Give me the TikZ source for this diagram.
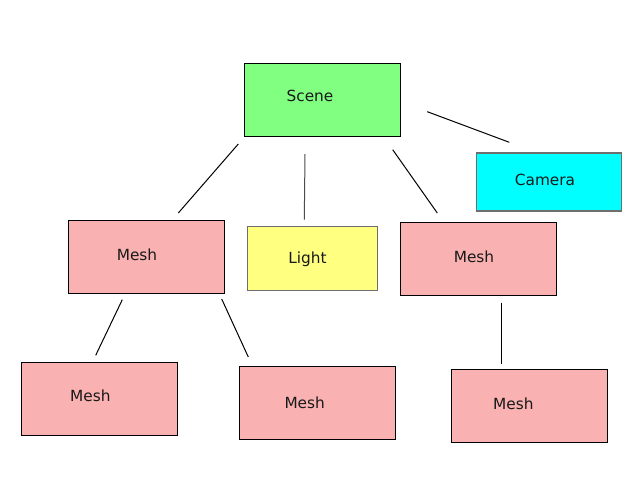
\documentclass[tikz,border=0pt]{standalone}
\usepackage{fontspec}
\setmainfont{DejaVu Sans}
\definecolor{scenegreen}{HTML}{80FF80}
\definecolor{camcyan}{HTML}{00FFFF}
\definecolor{lightyellow}{HTML}{FFFF80}
\definecolor{meshpink}{HTML}{FAB1B1}
\definecolor{greyedge}{HTML}{6E6E6E}
\begin{document}
\begin{tikzpicture}[x=0.75pt,y=-0.75pt,
  box/.style={rectangle,draw=black,line width=0.75pt,inner sep=0pt},
  meshbox/.style={box,fill=meshpink,minimum width=117pt,minimum height=54.75pt},
  scenebox/.style={box,fill=scenegreen,minimum width=117pt,minimum height=54.75pt},
  cambox/.style={box,draw=greyedge,line width=1pt,fill=camcyan,minimum width=108.75pt,minimum height=43.5pt},
  lightbox/.style={box,draw=greyedge,line width=1pt,fill=lightyellow,minimum width=97.5pt,minimum height=48pt},
  lbl/.style={anchor=base,inner sep=0pt,font=\fontsize{11.5}{14}\selectfont,text=black!90},
  conn/.style={draw=black,line width=0.75pt}]
\useasboundingbox[fill=white] (0,0) rectangle (640,480);
% boxes
\node[scenebox] (scene) at (322.5,99.7) {};
\node[cambox] (camera) at (549.2,181.9) {};
\node[meshbox] (mesh1) at (146.3,256.7) {};
\node[lightbox] (light) at (312.5,258.7) {};
\node[meshbox] (mesh2) at (478,258.8) {};
\node[meshbox] (mesh3) at (99.3,398.7) {};
\node[meshbox] (mesh4) at (317.3,402.7) {};
\node[meshbox] (mesh5) at (529.7,406) {};
% labels
\node[lbl] (tscene) at (310,101.3) {Scene};
\node[lbl] (tcamera) at (545,185.7) {Camera};
\node[lbl] (tmesh1) at (137,260) {Mesh};
\node[lbl] (tlight) at (307.5,263.3) {Light};
\node[lbl] (tmesh2) at (474,262.3) {Mesh};
\node[lbl] (tmesh3) at (90.3,401.7) {Mesh};
\node[lbl] (tmesh4) at (304.7,408.3) {Mesh};
\node[lbl] (tmesh5) at (513.3,409.3) {Mesh};
% connector end points
\coordinate (s1) at (238.3,144);   \coordinate (m1t) at (178.3,213);
\coordinate (s2) at (305,154);     \coordinate (lt) at (304.3,219.7);
\coordinate (s3) at (392.7,149.7); \coordinate (m2t) at (437.3,213);
\coordinate (s4) at (427.3,111.7); \coordinate (ct) at (509.3,142.3);
\coordinate (m1a) at (122.3,299.7); \coordinate (m3t) at (95.7,355.3);
\coordinate (m1b) at (221.7,299);   \coordinate (m4t) at (248.3,357);
\coordinate (m2b) at (501,302.7);   \coordinate (m5t) at (501,364.3);
% connectors
\draw[conn] (s1) -- (m1t);
\draw[conn,draw=black!70] (s2) -- (lt);
\draw[conn] (s3) -- (m2t);
\draw[conn] (s4) -- (ct);
\draw[conn] (m1a) -- (m3t);
\draw[conn] (m1b) -- (m4t);
\draw[conn] (m2b) -- (m5t);
\end{tikzpicture}
\end{document}
